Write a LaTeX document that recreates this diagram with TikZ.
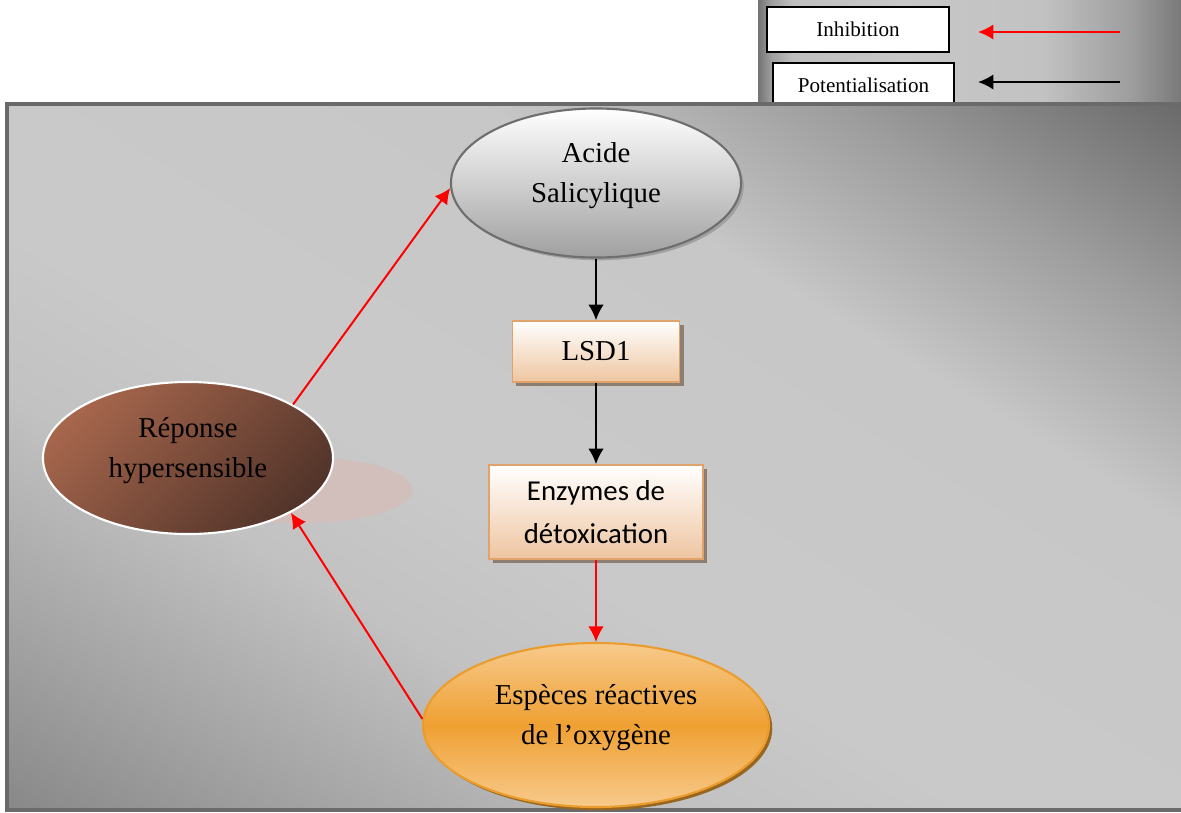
\documentclass[tikz,border=0pt]{standalone}
\usepackage{fontspec}
\setmainfont{Liberation Serif}
\newfontfamily\calib{Carlito}
\usetikzlibrary{shapes.geometric,arrows.meta,shadows}
\definecolor{frameEdge}{HTML}{6A6A6A}
\definecolor{acEdge}{HTML}{6E6E6E}
\definecolor{acFill}{HTML}{A0A0A0}
\definecolor{boxEdge}{HTML}{E0A36C}
\definecolor{boxFill}{HTML}{EEC5A0}
\definecolor{boxShadow}{HTML}{8C7E70}
\definecolor{espLight}{HTML}{F7CA8C}
\definecolor{espMid}{HTML}{EFA032}
\definecolor{espEdge}{HTML}{EA9C2C}
\definecolor{espShadow}{HTML}{98661F}
\definecolor{repLight}{HTML}{A6664C}
\definecolor{repDark}{HTML}{52342A}
\definecolor{repGlow}{HTML}{D2BFBB}
\pgfdeclarehorizontalshading{framegrad}{100bp}{color(0bp)=(black!47); color(25bp)=(black!47); color(31.8bp)=(black!36); color(39.8bp)=(black!24); color(46bp)=(black!21); color(60bp)=(black!22); color(67.2bp)=(black!38); color(75bp)=(black!59); color(100bp)=(black!59)}
\pgfdeclarehorizontalshading{legendgrad}{100bp}{color(0bp)=(black!55); color(25bp)=(black!55); color(26.5bp)=(black!38); color(29bp)=(black!25); color(41.5bp)=(black!22); color(58bp)=(black!24); color(68bp)=(black!38); color(75bp)=(black!55); color(100bp)=(black!55)}
\begin{document}
\begin{tikzpicture}[x=0.025cm,y=-0.025cm,
    big/.style={align=center,font=\fontsize{20.5}{28}\selectfont},
    ell/.style={ellipse,big,inner sep=0pt,text depth=15pt},
    box/.style={rectangle,big,draw=boxEdge,line width=1.2pt,top color=white,bottom color=boxFill,
      drop shadow={shadow xshift=0.1cm,shadow yshift=-0.1cm,fill=boxShadow,opacity=1}},
    lgbox/.style={rectangle,draw,line width=1.5pt,fill=white,inner sep=0pt,font=\fontsize{15}{18}\selectfont},
    pot/.style={draw=black,line width=1.4pt,-{Latex[length=11pt,width=11pt]}},
    inh/.style={draw=red,line width=1.4pt,-{Latex[length=11pt,width=11pt]}}]
\useasboundingbox (0,0) rectangle (1181,812);
% legende
\shade[shading=legendgrad] (758,-5) rectangle (1190,104);
\node[lgbox,minimum width=4.55cm,minimum height=1.125cm] (lgInh) at (858,29.5) {\raisebox{-3pt}{Inhibition}};
\node[lgbox,minimum width=4.525cm,minimum height=1.125cm] (lgPot) at (863.5,85.5) {Potentialisation};
\coordinate (inhA) at (1120,32); \coordinate (inhB) at (978,32);
\coordinate (potA) at (1120,82); \coordinate (potB) at (978,82);
\draw[inh] (inhA) -- (inhB);
\draw[pot] (potA) -- (potB);
% cadre
\begin{scope}
  \clip (7,104) rectangle (1190,810);
  \shade[shading=framegrad,transform canvas={rotate around={59:(594,457)}}] (-16,-243) rectangle (1204,1157);
\end{scope}
\draw[frameEdge,line width=2.2pt] (7,104) rectangle (1190,810);
\node[ellipse,fill=repGlow,minimum width=5.625cm,minimum height=1.65cm] (glow) at (300,490) {};
\node[ell,draw=acEdge,line width=1.5pt,top color=white,bottom color=acFill,minimum width=7.25cm,minimum height=3.725cm,
  drop shadow={shadow xshift=0.07cm,shadow yshift=-0.07cm,fill=acFill,opacity=1}] (acide) at (596,183) {Acide\\Salicylique};
\node[box,minimum width=4.175cm,minimum height=1.525cm] (lsd) at (596,351.5) {LSD1};
\node[box,font=\calib\fontsize{20.5}{30}\selectfont,minimum width=5.35cm,minimum height=2.35cm] (enz) at (596,512) {Enzymes de\\détoxication};
\node[ell,draw=espEdge,line width=1.5pt,top color=espLight,bottom color=espLight,middle color=espMid,minimum width=8.65cm,minimum height=4.1cm,
  drop shadow={shadow xshift=0.08cm,shadow yshift=-0.08cm,fill=espShadow,opacity=1}] (esp) at (596,725) {Espèces réactives\\de l’oxygène};
\node[ell,draw=white,line width=1.5pt,top color=repLight,bottom color=repDark,shading angle=45,minimum width=7.25cm,minimum height=3.8cm] (rep) at (188,458) {Réponse\\hypersensible};
\draw[pot] (acide) -- (lsd);
\draw[pot] (lsd) -- (enz);
\draw[inh] (enz) -- (esp);
\draw[inh] (rep.27) -- (acide.182);
\draw[inh] (esp.178) -- (rep.-28);
\end{tikzpicture}
\end{document}
